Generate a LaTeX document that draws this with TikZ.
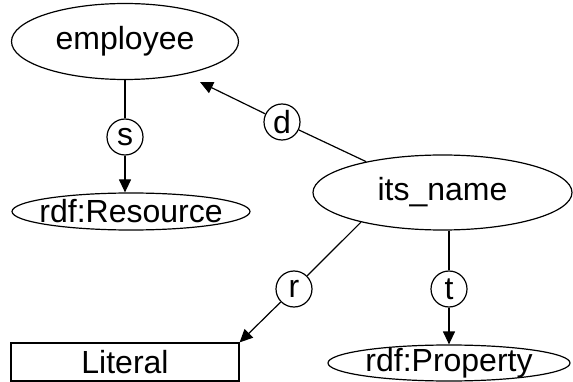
\documentclass[tikz,border=0pt]{standalone}
\usepackage{fontspec}
\setmainfont{Liberation Sans}
\usetikzlibrary{shapes.geometric,arrows.meta}
\tikzstyle{arrow} = [line width=1.2pt,-{Triangle[length=13pt,width=12pt]}]
\tikzstyle{link} = [line width=1.2pt]
\tikzset{cls/.style={ellipse,draw,line width=1.2pt,inner xsep=-40pt,inner ysep=-10pt,font=\fontsize{32pt}{38pt}\selectfont},
  lit/.style={rectangle,draw,line width=1.2pt,inner sep=0pt,font=\fontsize{32pt}{38pt}\selectfont},
  lbl/.style={circle,draw,line width=1.2pt,minimum size=36pt,inner sep=0pt,font=\fontsize{32pt}{38pt}\selectfont}}

\begin{document}
\begin{tikzpicture}[x=1pt,y=-1pt]
    \useasboundingbox (0,0) rectangle (573,382);

    \node [cls, minimum width=227pt, minimum height=76pt] (employee) at (125,41.5) {employee};
    \node [cls, minimum width=238pt, minimum height=37pt] (resource) at (131,211.5) {rdf:Resource};
    \node [cls, minimum width=259pt, minimum height=75pt] (itsname) at (442.5,192.5) {its\_name};
    \node [lit, minimum width=228pt, minimum height=38pt] (literal) at (125,362) {Literal};
    \node [cls, minimum width=242pt, minimum height=36pt] (property) at (449,363) {rdf:Property};

    \node [lbl] (s) at (125,137) {s};
    \node [lbl] (d) at (282,122) {d};
    \node [lbl] (r) at (294,289) {r};
    \node [lbl] (t) at (449,289) {t};
    \coordinate (dend) at (200,82);

    \draw [link] (employee.south -| s) -- (s);
    \draw [arrow] (s) -- (s |- resource.north);
    \draw [link] (itsname.158) -- (d);
    \draw [arrow] (d) -- (dend);
    \draw [link] (itsname.200) -- (r);
    \draw [arrow] (r) -- (literal.north east);
    \draw [link] (itsname.south -| t) -- (t);
    \draw [arrow] (t) -- (t |- property.north);
\end{tikzpicture}
\end{document}
